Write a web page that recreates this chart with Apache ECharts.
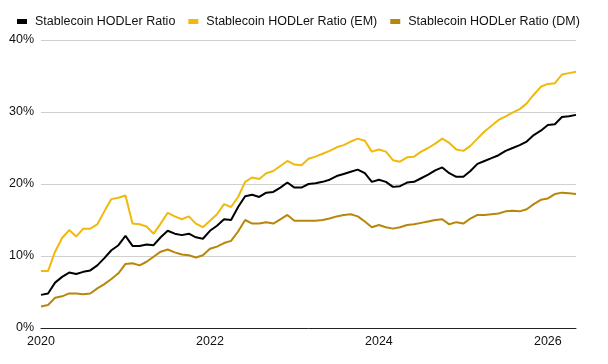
<!DOCTYPE html>
<html>
<head>
<meta charset="utf-8">
<script src="https://cdn.jsdelivr.net/npm/echarts@6/dist/echarts.min.js"></script>
<style>
  html, body { margin: 0; padding: 0; background: #fff; }
  #chart { width: 608px; height: 364px; }
</style>
</head>
<body>
<div id="chart"></div>
<script>
// Monthly, Jan 2020 .. May 2026
const years = [2020, 2021, 2022, 2023, 2024, 2025, 2026];
const months = [];
years.forEach(y => {
  for (let m = 1; m <= 12; m++) {
    if (y === 2026 && m > 5) break;
    months.push(y + '-' + String(m).padStart(2, '0'));
  }
});
const xTickLabels = ['2020', '2022', '2024', '2026'];

const hodlerRatio = [
  4.6, 4.8, 6.3, 7.1, 7.7, 7.5, 7.8, 8.0, 8.7, 9.7, 10.8, 11.5,
  12.8, 11.4, 11.4, 11.6, 11.5, 12.6, 13.5, 13.1, 12.9, 13.1, 12.6, 12.4,
  13.5, 14.2, 15.1, 15.0, 16.8, 18.3, 18.5, 18.2, 18.8, 18.9, 19.5, 20.2,
  19.5, 19.5, 20.0, 20.1, 20.3, 20.6, 21.1, 21.4, 21.7, 22.0, 21.5, 20.3,
  20.6, 20.3, 19.6, 19.7, 20.2, 20.3, 20.8, 21.3, 21.9, 22.3, 21.5, 21.0,
  21.0, 21.8, 22.8, 23.2, 23.6, 24.0, 24.6, 25.0, 25.4, 25.9, 26.8, 27.4,
  28.2, 28.3, 29.3, 29.4, 29.6
];
const hodlerRatioEM = [
  7.9, 7.9, 10.6, 12.5, 13.6, 12.7, 13.8, 13.8, 14.4, 16.2, 17.9, 18.1,
  18.4, 14.5, 14.4, 14.1, 13.1, 14.5, 16.0, 15.5, 15.1, 15.5, 14.5, 14.0,
  14.9, 15.8, 17.2, 16.8, 18.2, 20.3, 20.9, 20.7, 21.5, 21.8, 22.5, 23.2,
  22.7, 22.6, 23.5, 23.8, 24.2, 24.6, 25.1, 25.4, 25.9, 26.3, 26.0, 24.5,
  24.8, 24.5, 23.3, 23.1, 23.7, 23.8, 24.5, 25.0, 25.6, 26.3, 25.7, 24.8,
  24.6, 25.3, 26.3, 27.3, 28.1, 28.9, 29.4, 29.9, 30.4, 31.2, 32.4, 33.5,
  33.9, 34.0, 35.2, 35.4, 35.6
];
const hodlerRatioDM = [
  3.0, 3.2, 4.2, 4.4, 4.8, 4.8, 4.7, 4.8, 5.5, 6.1, 6.8, 7.6,
  8.9, 9.0, 8.7, 9.2, 9.9, 10.6, 10.9, 10.5, 10.2, 10.1, 9.8, 10.1,
  11.0, 11.3, 11.8, 12.1, 13.4, 15.0, 14.5, 14.5, 14.7, 14.5, 15.1, 15.7,
  14.9, 14.9, 14.9, 14.9, 15.0, 15.2, 15.5, 15.7, 15.8, 15.5, 14.8, 14.0,
  14.3, 14.0, 13.8, 14.0, 14.3, 14.4, 14.6, 14.8, 15.0, 15.1, 14.4, 14.7,
  14.5, 15.2, 15.7, 15.7, 15.8, 15.9, 16.2, 16.3, 16.2, 16.5, 17.2, 17.8,
  18.0, 18.6, 18.8, 18.7, 18.6
];

const chart = echarts.init(document.getElementById('chart'));
const font = 'Arial, "Liberation Sans", Helvetica, sans-serif';

const mkSeries = (name, data, color) => ({
  name: name,
  type: 'line',
  data: data,
  symbol: 'none',
  lineStyle: { color: color, width: 2 },
  itemStyle: { color: color }
});

chart.setOption({
  animation: false,
  textStyle: { fontFamily: font },
  legend: {
    left: 12,
    top: 10,
    icon: 'rect',
    itemWidth: 10,
    itemHeight: 5,
    itemGap: 13,
    textStyle: {
      fontFamily: '"Liberation Sans Narrow", "Arial Narrow", ' + font,
      fontSize: 12.5,
      color: '#111',
      padding: [0, 0, 0, 3]
    },
    data: ['Stablecoin HODLer Ratio', 'Stablecoin HODLer Ratio (EM)', 'Stablecoin HODLer Ratio (DM)']
  },
  grid: { left: 41, right: 32, top: 40, bottom: 36 },
  xAxis: {
    type: 'category',
    data: months,
    boundaryGap: false,
    axisLine: { lineStyle: { color: '#222', width: 1 } },
    axisTick: { show: false },
    axisLabel: {
      color: '#111',
      fontSize: 12.5,
      margin: 7,
      interval: (idx, val) => val.endsWith('-01') && xTickLabels.includes(val.slice(0, 4)),
      formatter: val => val.slice(0, 4)
    }
  },
  yAxis: {
    type: 'value',
    min: 0,
    max: 40,
    interval: 10,
    axisLine: { show: false },
    axisTick: { show: false },
    splitLine: { lineStyle: { color: '#d0d0d0', width: 1 } },
    axisLabel: { color: '#111', fontSize: 12.5, margin: 7, formatter: '{value}%' }
  },
  series: [
    mkSeries('Stablecoin HODLer Ratio', hodlerRatio, '#000000'),
    mkSeries('Stablecoin HODLer Ratio (EM)', hodlerRatioEM, '#F0B90B'),
    mkSeries('Stablecoin HODLer Ratio (DM)', hodlerRatioDM, '#B8860B')
  ]
});
</script>
</body>
</html>
